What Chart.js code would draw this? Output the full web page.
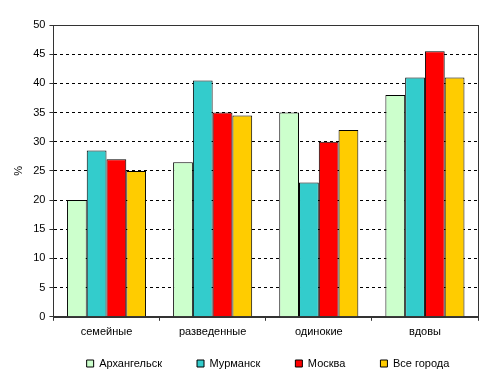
<!DOCTYPE html>
<html><head><meta charset="utf-8">
<script src="https://cdn.jsdelivr.net/npm/chart.js@4"></script>
<style>html,body{margin:0;padding:0;background:#fff}#w{width:493px;height:384px}</style>
</head><body><div id="w"><canvas id="c"></canvas></div>
<script>
const categories = ['семейные', 'разведенные', 'одинокие', 'вдовы'];
const arkhangelsk = [20, 26.5, 35, 38];
const murmansk = [28.5, 40.5, 23, 41];
const moskva = [27, 35, 30, 45.5];
const vseGoroda = [25, 34.5, 32, 41];
const seriesNames = ['Архангельск', 'Мурманск', 'Москва', 'Все города'];
const yTicks = [0, 5, 10, 15, 20, 25, 30, 35, 40, 45, 50];

const colors = ['#CCFFCC', '#33CCCC', '#FF0000', '#FFCC00'];
const font = {family: 'Liberation Sans, Arial, sans-serif', size: 11};
Chart.defaults.font = font;
Chart.defaults.color = '#000';

const frame = {
  id: 'frame',
  afterLayout(chart) {
    const lg = chart.legend;
    if (lg) {
      lg.left += 25; lg.right += 25;
      lg.top = 323; lg.bottom = 384;
    }
  },
  afterDraw(chart) {
    const a = chart.chartArea, ctx = chart.ctx;
    ctx.save();
    ctx.strokeStyle = '#333';
    ctx.lineWidth = 1;
    ctx.strokeRect(Math.round(a.left) + 0.5, Math.round(a.top) + 0.5, Math.round(a.right - a.left), Math.round(a.bottom - a.top));
    ctx.restore();
  }
};

new Chart(document.getElementById('c'), {
  type: 'bar',
  data: {
    labels: categories,
    datasets: [arkhangelsk, murmansk, moskva, vseGoroda].map((d, i) => ({
      label: seriesNames[i], data: d, backgroundColor: colors[i],
      borderColor: '#000', borderWidth: 1,
      categoryPercentage: 0.745, barPercentage: 1
    }))
  },
  options: {
    responsive: true, maintainAspectRatio: false, animation: false,
    layout: {padding: {top: 25, right: 15, left: 8, bottom: 0}},
    plugins: {
      tooltip: {enabled: false},
      legend: {
        position: 'bottom', fullSize: true, maxHeight: 40,
        labels: {boxWidth: 7, boxHeight: 7, padding: 35, color: '#000', font: font,
          generateLabels(chart) {
            return chart.data.datasets.map((ds, i) => ({
              text: ds.label, fillStyle: ds.backgroundColor, strokeStyle: '#000', lineWidth: 1,
              datasetIndex: i, hidden: false
            }));
          }}
      }
    },
    scales: {
      x: {
        grid: {display: true, drawOnChartArea: false, offset: true, tickLength: 4, color: '#333'},
        border: {color: '#333'},
        ticks: {padding: 5, font: font, color: '#000'}
      },
      y: {
        min: 0, max: 50,
        afterBuildTicks(s) { s.ticks = yTicks.map(v => ({value: v})); },
        grid: {color: '#000', tickLength: 4, tickColor: '#333'},
        border: {color: '#333', dash: [3, 3]},
        ticks: {padding: 4, font: font, color: '#000'},
        title: {display: true, text: '%', font: font, color: '#000', padding: {top: 4, bottom: 4}}
      }
    }
  },
  plugins: [frame]
});
</script></body></html>
